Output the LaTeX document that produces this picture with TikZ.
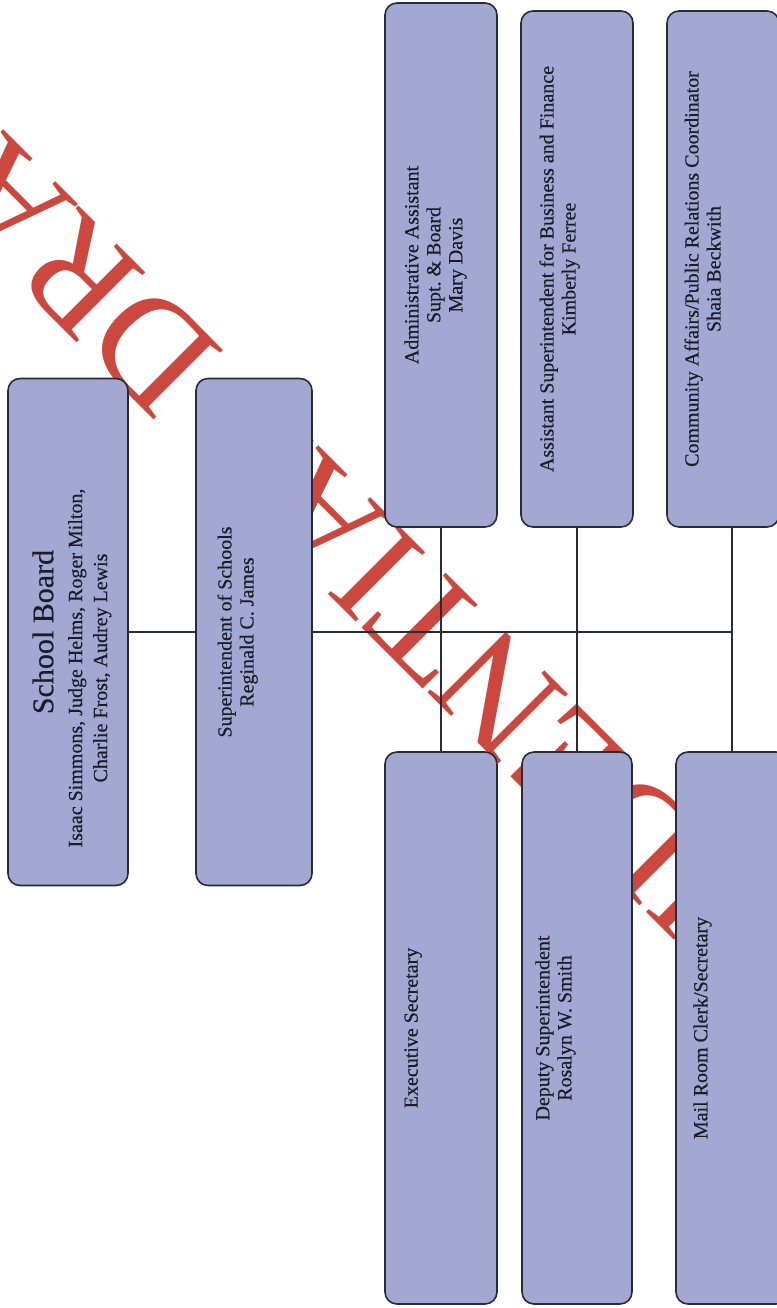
\documentclass[tikz,border=0pt]{standalone}
\usepackage{fontspec}
\setmainfont{Liberation Serif}
\newfontfamily\chartfont[FakeBold=0.4]{Liberation Serif}
\definecolor{boxfill}{RGB}{162,168,210}
\definecolor{boxline}{RGB}{40,44,56}
\definecolor{wmred}{RGB}{204,72,62}
\definecolor{ink}{RGB}{28,28,40}
\begin{document}
\begin{tikzpicture}[x=1pt,y=-1pt,
  orgbox/.style={draw=boxline, line width=1.6pt, fill=boxfill, rounded corners=12pt, inner sep=0pt},
  lbl/.style={rotate=90, anchor=north, align=center, text=ink, inner sep=0pt, font=\chartfont\fontsize{20}{22}\selectfont},
  link/.style={draw=boxline, line width=1.2pt}]
\useasboundingbox (0,0) rectangle (776,1308);
\fill[white] (0,0) rectangle (776,1308);
% watermark
\node[rotate=135, text=wmred, font=\fontsize{150}{150}\selectfont, inner sep=0pt] (wm) at (420,616) {CONFIDENTIAL DRAFT};
% boxes
\node[orgbox, minimum width=120pt, minimum height=507pt] (sb)   at (68,632)   {};
\node[orgbox, minimum width=116pt, minimum height=507pt] (sup)  at (254,632)  {};
\node[orgbox, minimum width=112pt, minimum height=524pt] (adm)  at (441,265)  {};
\node[orgbox, minimum width=112pt, minimum height=516pt] (asst) at (577,269)  {};
\node[orgbox, minimum width=112pt, minimum height=516pt] (comm) at (723,269)  {};
\node[orgbox, minimum width=112pt, minimum height=552pt] (exec) at (441,1028) {};
\node[orgbox, minimum width=110pt, minimum height=552pt] (dep)  at (577,1028) {};
\node[orgbox, minimum width=112pt, minimum height=552pt] (mail) at (732,1028) {};
\coordinate (tr) at (732,632);
% connectors
\draw[link] (sb.east) -- (sup.west);
\draw[link] (sup.east) -- (tr);
\draw[link] (adm.south) -- (exec.north);
\draw[link] (asst.south) -- (dep.north);
\draw[link] (tr |- comm.south) -- (tr |- mail.north);
% labels
\node[lbl, font=\chartfont\fontsize{30}{32}\selectfont] (sbt) at ([xshift=25pt]sb.west) {School Board};
\node[lbl, font=\chartfont\fontsize{20}{25}\selectfont] (sbn) at (68,668) {Isaac Simmons, Judge Helms, Roger Milton,\\Charlie Frost, Audrey Lewis};
\node[lbl] (supt) at ([xshift=22pt]sup.west) {Superintendent of Schools\\Reginald C. James};
\node[lbl] (admt) at ([xshift=20pt]adm.west) {Administrative Assistant\\Supt.\ \& Board\\Mary Davis};
\node[lbl] (asstt) at ([xshift=19pt]asst.west) {Assistant Superintendent for Business and Finance\\Kimberly Ferree};
\node[lbl] (commt) at ([xshift=18pt]comm.west) {Community Affairs/Public Relations Coordinator\\Shaia Beckwith};
\node[lbl] (exect) at ([xshift=20pt]exec.west) {Executive Secretary};
\node[lbl] (dept) at ([xshift=14pt]dep.west) {Deputy Superintendent\\Rosalyn W. Smith};
\node[lbl] (mailt) at ([xshift=18pt]mail.west) {Mail Room Clerk/Secretary};
\end{tikzpicture}
\end{document}
